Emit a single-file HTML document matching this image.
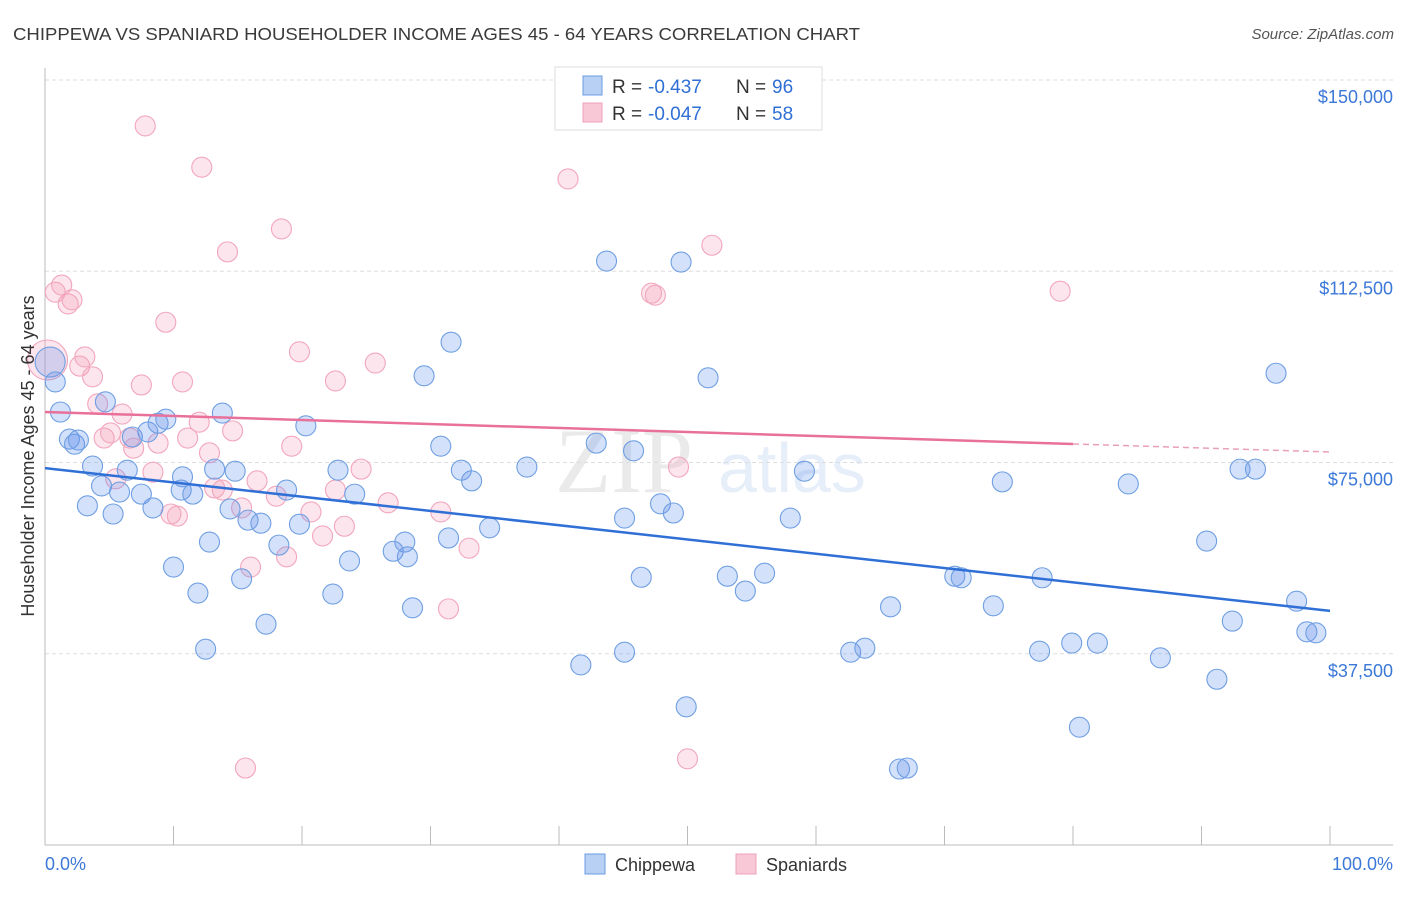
<!DOCTYPE html>
<html><head><meta charset="utf-8"><style>
body{margin:0;background:#fff;font-family:"Liberation Sans",sans-serif}
</style></head><body>
<svg id="chart" width="1406" height="892" xmlns="http://www.w3.org/2000/svg" style="font-family:'Liberation Sans',sans-serif">
<text x="13" y="40" font-size="17.5" fill="#3a3a3a" textLength="847" lengthAdjust="spacingAndGlyphs">CHIPPEWA VS SPANIARD HOUSEHOLDER INCOME AGES 45 - 64 YEARS CORRELATION CHART</text>
<text x="1394" y="39" font-size="15" fill="#555" text-anchor="end" font-style="italic">Source: ZipAtlas.com</text>
<g opacity="0.13"><text x="555" y="492" font-size="92" font-family="Liberation Serif" fill="#666">ZIP</text><text x="718" y="492" font-size="70" fill="#4a7fd6">atlas</text></g>
<g id="grid"></g><g id="axes"></g><g id="pts"></g><g id="lines"></g>
<text transform="translate(34,456) rotate(-90)" font-size="18" fill="#333" text-anchor="middle">Householder Income Ages 45 - 64 years</text>
<text x="45" y="870" font-size="18" fill="#3b78d8">0.0%</text>
<text x="1393" y="870" font-size="18" fill="#3b78d8" text-anchor="end">100.0%</text>
<g>
<rect x="555" y="67" width="267" height="63" fill="#fff" stroke="#ddd"/>
<rect x="583" y="76" width="19" height="19" fill="#b8d0f4" stroke="#6a9be0"/>
<rect x="583" y="103" width="19" height="19" fill="#f9c8d6" stroke="#f0a0b8"/>
<text x="612" y="93" font-size="19" fill="#333">R = </text><text x="648" y="93" font-size="19" fill="#2f6fd6">-0.437</text>
<text x="736" y="93" font-size="19" fill="#333">N = </text><text x="772" y="93" font-size="19" fill="#2f6fd6">96</text>
<text x="612" y="120" font-size="19" fill="#333">R = </text><text x="648" y="120" font-size="19" fill="#2f6fd6">-0.047</text>
<text x="736" y="120" font-size="19" fill="#333">N = </text><text x="772" y="120" font-size="19" fill="#2f6fd6">58</text>
</g>
<g>
<rect x="585" y="854" width="20" height="20" fill="#b8d0f4" stroke="#6a9be0"/>
<text x="615" y="871" font-size="18" fill="#333">Chippewa</text>
<rect x="736" y="854" width="20" height="20" fill="#f9c8d6" stroke="#f0a0b8"/>
<text x="766" y="871" font-size="18" fill="#333">Spaniards</text>
</g>
</svg>
<script>
const yTicks=[37500,75000,112500,150000];
const yTickLabels=["$37,500","$75,000","$112,500","$150,000"];
const xTicks=[0,10,20,30,40,50,60,70,80,90,100];
const chipX=[0.4,0.8,1.2,1.9,2.3,2.6,3.7,3.3,4.4,5.3,5.8,6.4,6.8,7.5,4.7,8.0,8.4,8.8,9.4,10.0,10.6,10.7,11.5,11.9,12.5,12.8,13.2,13.8,14.4,14.8,15.3,15.8,16.8,17.2,18.2,18.8,19.8,20.3,22.4,22.8,23.7,24.1,27.1,28.0,28.2,28.6,29.5,30.8,31.4,31.6,32.4,33.2,34.6,37.5,41.7,42.9,43.7,45.1,45.1,45.8,46.4,47.9,48.9,49.5,49.9,51.6,53.1,54.5,56.0,58.0,59.1,62.7,63.8,65.8,66.5,67.1,70.8,71.3,73.8,74.5,77.4,77.6,79.9,80.5,81.9,84.3,86.8,90.4,91.2,92.4,93.0,94.2,95.8,97.4,98.2,98.9];
const chipY=[94.7,90.8,84.9,79.6,78.6,79.4,74.3,66.5,70.4,64.9,69.2,73.5,80.0,68.8,86.9,81.0,66.1,82.7,83.5,54.5,69.6,72.2,68.8,49.4,38.4,59.4,73.7,84.7,65.9,73.3,52.2,63.7,63.1,43.3,58.8,69.6,62.9,82.2,49.2,73.5,55.7,68.8,57.6,59.4,56.5,46.5,92.0,78.2,60.2,98.6,73.5,71.4,62.2,74.1,35.3,78.8,114.5,64.1,37.8,77.3,52.5,66.9,65.1,114.3,27.1,91.6,52.7,49.8,53.3,64.1,73.3,37.8,38.6,46.7,14.9,15.1,52.7,52.4,46.9,71.2,38.0,52.4,39.6,23.1,39.6,70.8,36.7,59.6,32.5,43.9,73.7,73.7,92.5,47.8,41.8,41.6];
const spanX=[0.2,0.8,1.3,1.8,2.1,2.7,3.1,3.7,4.1,4.6,5.1,5.5,6.0,6.6,6.9,7.5,7.8,8.4,8.8,9.4,9.8,10.3,10.7,11.1,12.0,12.2,12.8,13.2,13.8,14.2,14.6,15.3,15.6,16.0,16.5,18.0,18.4,18.8,19.2,19.8,20.7,21.6,22.6,22.6,23.3,24.6,25.7,26.7,30.8,31.4,33.0,40.7,47.2,47.5,49.3,50.0,51.9,79.0];
const spanY=[95.1,108.4,109.8,106.1,106.9,93.9,95.7,91.8,86.5,79.8,80.8,71.8,84.5,79.8,77.8,90.2,141.0,73.1,78.8,102.5,64.9,64.5,90.8,79.8,82.9,132.9,76.9,70.0,69.6,116.3,81.2,66.1,15.1,54.5,71.4,68.4,120.8,56.5,78.2,96.7,65.3,60.6,91.0,69.6,62.5,73.7,94.5,67.1,65.3,46.3,58.2,130.6,108.2,107.8,74.1,16.9,117.6,108.6];
const chipTrend=[73.9,45.9];
const spanTrend=[84.9,77.06];
const spanSolidEnd=80;
const NS="http://www.w3.org/2000/svg";
const X0=45,X1=1330,YT=80,YB=845,YMAX=150000;
const sx=p=>X0+(X1-X0)*p/100;
const sy=v=>YB-(YB-YT)*v/YMAX;
function mk(tag,a,parent){const e=document.createElementNS(NS,tag);for(const k in a)e.setAttribute(k,a[k]);document.getElementById(parent).appendChild(e);return e;}
yTicks.forEach((t,i)=>{
  const g=mk('line',{x1:X0,x2:1393,y1:sy(t),y2:sy(t),stroke:'#ddd','stroke-dasharray':'4,3'},'grid');
  
  
  const l=mk('text',{x:1393,y:sy(t)+23,'font-size':18,fill:'#3b78d8','text-anchor':'end'},'grid');
  l.textContent=yTickLabels[i];
  
  
});
const ya=mk('line',{x1:X0,x2:X0,y1:68,y2:YB,stroke:'#bbb'},'axes');


const xa=mk('line',{x1:X0,x2:1393,y1:YB,y2:YB,stroke:'#bbb'},'axes');


xTicks.forEach(t=>{
  const k=mk('line',{x1:sx(t),x2:sx(t),y1:826,y2:YB,stroke:'#bbb'},'axes');
  
  
});
function dots(xs,ys,fill,stroke,name,bigR){
  xs.forEach((x,i)=>{
    const c=mk('circle',{cx:sx(x),cy:sy(ys[i]*1000),r:(i===0?bigR:10),fill:fill,stroke:stroke,'stroke-width':1.1},'pts');
    
    
  });
}
dots(spanX,spanY,'rgba(244,160,185,0.28)','#f2a6bd','spaniards-point',20);
dots(chipX,chipY,'rgba(100,149,237,0.28)','#6f9fe2','chippewa-point',15);
const bl=mk('line',{x1:sx(0),y1:sy(chipTrend[0]*1000),x2:sx(100),y2:sy(chipTrend[1]*1000),stroke:'#2f6fd6','stroke-width':2.5},'lines');


const pv=p=>spanTrend[0]+(spanTrend[1]-spanTrend[0])*p/100;
const pl=mk('line',{x1:sx(0),y1:sy(pv(0)*1000),x2:sx(spanSolidEnd),y2:sy(pv(spanSolidEnd)*1000),stroke:'#e8709a','stroke-width':2.5},'lines');


const pd=mk('line',{x1:sx(spanSolidEnd),y1:sy(pv(spanSolidEnd)*1000),x2:sx(100),y2:sy(pv(100)*1000),stroke:'#e8a0b8','stroke-width':1.5,'stroke-dasharray':'6,4'},'lines');


</script>
</body></html>
